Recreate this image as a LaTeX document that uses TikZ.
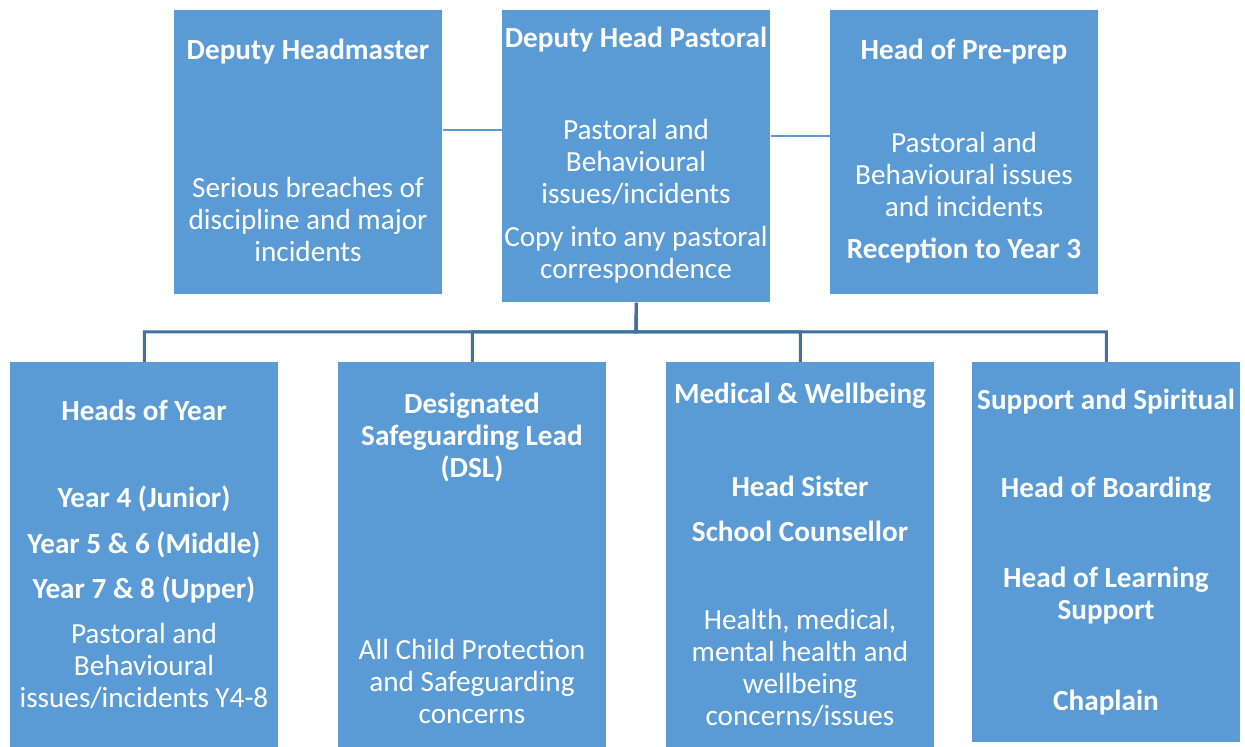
\documentclass[tikz,border=0pt]{standalone}
\usepackage{fontspec}
\setmainfont{Carlito}
\definecolor{boxblue}{HTML}{5B9BD5}
\definecolor{linkblue}{HTML}{41719C}
\tikzset{
    box/.style={fill=boxblue, anchor=north west, minimum width=134pt, inner sep=0pt},
    txt/.style={text=white, align=center, font=\fontsize{14.6}{16}\selectfont, inner sep=0pt},
    toplink/.style={draw=boxblue, line width=1pt},
    treelink/.style={draw=linkblue, line width=1.5pt}
}
\begin{document}
\begin{tikzpicture}[x=0.5pt,y=-0.5pt]
    \useasboundingbox (0,0) rectangle (1245,747);
%Top row
    \node[box, minimum height=142pt] (dh) at (174,10) {};
    \node[box, minimum height=146pt] (dp) at (502,10) {};
    \node[box, minimum height=142pt] (pp) at (830,10) {};
%Bottom row
    \node[box, minimum height=192.5pt] (hy) at (10,362) {};
    \node[box, minimum height=192.5pt] (dsl) at (338,362) {};
    \node[box, minimum height=192.5pt] (med) at (666,362) {};
    \node[box, minimum height=190pt] (sup) at (972,362) {};
%Links
    \draw[toplink] ([yshift=11pt]dh.east) -- ([yshift=11pt]dh.east -| dp.west);
    \draw[toplink] ([yshift=8pt]pp.west) -- ([yshift=8pt]pp.west -| dp.east);
    \coordinate (bus) at (636,332);
    \foreach \n in {hy,dsl,med,sup}
        \draw[treelink] (dp.south) -- (bus) -| (\n.north);
%Deputy Headmaster
    \node[txt] (dhtitle) at (308,52) {\bfseries Deputy Headmaster};
    \node[txt] (dhbody) at (308,219) {Serious breaches of\\discipline and major\\incidents};
%Deputy Head Pastoral
    \node[txt] (dptitle) at (636,40) {\bfseries Deputy Head Pastoral};
    \node[txt] (dpbody) at (636,162) {Pastoral and\\Behavioural\\issues/incidents};
    \node[txt] (dpcopy) at (636,255) {Copy into any pastoral\\correspondence};
%Head of Pre-prep
    \node[txt] (pptitle) at (964,52) {\bfseries Head of Pre-prep};
    \node[txt] (ppbody) at (964,174) {Pastoral and\\Behavioural issues\\and incidents};
    \node[txt] (ppyears) at (964,251) {\bfseries Reception to Year 3};
%Heads of Year
    \node[txt] (hytitle) at (144,410) {\bfseries Heads of Year};
    \node[txt] (hyjun) at (144,499) {\bfseries Year 4 (Junior)};
    \node[txt] (hymid) at (144,545) {\bfseries Year 5 \& 6 (Middle)};
    \node[txt] (hyupp) at (144,590) {\bfseries Year 7 \& 8 (Upper)};
    \node[txt] (hybody) at (144,666) {Pastoral and\\Behavioural\\issues/incidents Y4-8};
%DSL
    \node[txt] (dsltitle) at (472,437) {\bfseries Designated\\\bfseries Safeguarding Lead\\\bfseries (DSL)};
    \node[txt] (dslbody) at (472,681) {All Child Protection\\and Safeguarding\\concerns};
%Medical
    \node[txt] (medtitle) at (800,396) {\bfseries Medical \& Wellbeing};
    \node[txt] (medsis) at (800,486) {\bfseries Head Sister};
    \node[txt] (medcou) at (800,531) {\bfseries School Counsellor};
    \node[txt] (medbody) at (800,668) {Health, medical,\\mental health and\\wellbeing\\concerns/issues};
%Support
    \node[txt] (suptitle) at (1106,402) {\bfseries Support and Spiritual};
    \node[txt] (supboard) at (1106,490) {\bfseries Head of Boarding};
    \node[txt] (suplearn) at (1106,596) {\bfseries Head of Learning\\\bfseries Support};
    \node[txt] (supchap) at (1106,703) {\bfseries Chaplain};
\end{tikzpicture}
\end{document}
